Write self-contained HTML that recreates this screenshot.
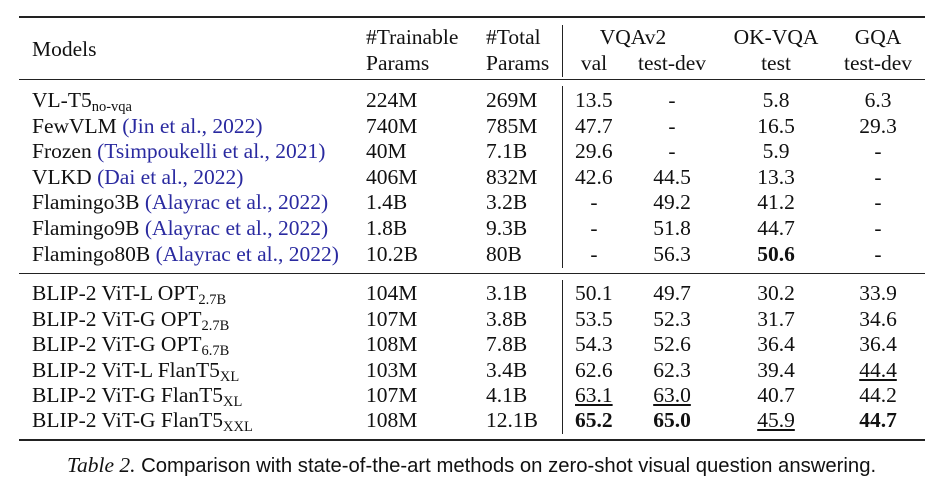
<!DOCTYPE html>
<html><head><meta charset="utf-8">
<style>
body{margin:0;width:933px;height:484px;background:#fff;position:relative;overflow:hidden;font-family:"Liberation Serif",serif;color:#111}
.t{position:absolute;font-size:21.5px;line-height:24px;white-space:nowrap}
.c{transform:translateX(-50%)}
.r{position:absolute;background:#222}
a,.lk{color:#2a2aa0;text-decoration:none}
sub{font-size:14.5px;vertical-align:-4px;line-height:0}
u{text-decoration:underline;text-underline-offset:2px}
</style></head><body>
<div class="r" style="left:19px;top:16px;width:906px;height:2px"></div>
<div class="r" style="left:19px;top:79px;width:906px;height:1px"></div>
<div class="r" style="left:19px;top:273px;width:906px;height:1px"></div>
<div class="r" style="left:19px;top:439px;width:906px;height:2px"></div>
<div class="r" style="left:562px;top:25px;width:1px;height:52px"></div>
<div class="r" style="left:562px;top:86px;width:1px;height:182px"></div>
<div class="r" style="left:562px;top:280px;width:1px;height:154px"></div>
<div id="tbl"></div>
<div class="t" style="left:67px;top:453px;font-family:'Liberation Sans',sans-serif;font-size:20.3px"><i style="font-family:'Liberation Serif',serif;font-size:21.5px">Table 2.</i> Comparison with state-of-the-art methods on zero-shot visual question answering.</div>
<script>
const models=["VL-T5<sub>no-vqa</sub>","FewVLM <span class='lk'>(Jin et al., 2022)</span>","Frozen <span class='lk'>(Tsimpoukelli et al., 2021)</span>","VLKD <span class='lk'>(Dai et al., 2022)</span>","Flamingo3B <span class='lk'>(Alayrac et al., 2022)</span>","Flamingo9B <span class='lk'>(Alayrac et al., 2022)</span>","Flamingo80B <span class='lk'>(Alayrac et al., 2022)</span>",
"BLIP-2 ViT-L OPT<sub>2.7B</sub>","BLIP-2 ViT-G OPT<sub>2.7B</sub>","BLIP-2 ViT-G OPT<sub>6.7B</sub>","BLIP-2 ViT-L FlanT5<sub>XL</sub>","BLIP-2 ViT-G FlanT5<sub>XL</sub>","BLIP-2 ViT-G FlanT5<sub>XXL</sub>"];
const trainable=["224M","740M","40M","406M","1.4B","1.8B","10.2B","104M","107M","108M","103M","107M","108M"];
const total=["269M","785M","7.1B","832M","3.2B","9.3B","80B","3.1B","3.8B","7.8B","3.4B","4.1B","12.1B"];
const vqaVal=["13.5","47.7","29.6","42.6","-","-","-","50.1","53.5","54.3","62.6","<u>63.1</u>","<b>65.2</b>"];
const vqaDev=["-","-","-","44.5","49.2","51.8","56.3","49.7","52.3","52.6","62.3","<u>63.0</u>","<b>65.0</b>"];
const okvqa=["5.8","16.5","5.9","13.3","41.2","44.7","<b>50.6</b>","30.2","31.7","36.4","39.4","40.7","<u>45.9</u>"];
const gqa=["6.3","29.3","-","-","-","-","-","33.9","34.6","36.4","<u>44.4</u>","44.2","<b>44.7</b>"];
const rowY=[100,125.5,151,176.5,202,228,254,293,319,344,369.5,395,420];
const tbl=document.getElementById('tbl');
function add(html,x,y,center,name){
  const d=document.createElement('div');
  d.className='t'+(center?' c':'');
  d.style.left=x+'px';d.style.top=(y-12)+'px';
  d.innerHTML=html;
  
  
  tbl.appendChild(d);
}
add("Models",32,49,false,'header-models');
add("#Trainable",366,37,false,'header-trainable');
add("Params",366,63,false,'header-trainable-params');
add("#Total",486,37,false,'header-total');
add("Params",486,63,false,'header-total-params');
add("VQAv2",633,37,true,'header-vqav2');
add("val",594,63,true,'header-val');
add("test-dev",672,63,true,'header-vqa-testdev');
add("OK-VQA",776,37,true,'header-okvqa');
add("test",776,63,true,'header-ok-test');
add("GQA",878,37,true,'header-gqa');
add("test-dev",878,63,true,'header-gqa-testdev');
for(let i=0;i<models.length;i++){
  const y=rowY[i];
  add(models[i],32,y,false,'model-name');
  add(trainable[i],366,y,false,'trainable-params');
  add(total[i],486,y,false,'total-params');
  add(vqaVal[i],vqaVal[i]==='-'?594:575,y,vqaVal[i]==='-','vqav2-val');
  add(vqaDev[i],672,y,true,'vqav2-testdev');
  add(okvqa[i],776,y,true,'okvqa-test');
  add(gqa[i],878,y,true,'gqa-testdev');
}
</script>
</body></html>
